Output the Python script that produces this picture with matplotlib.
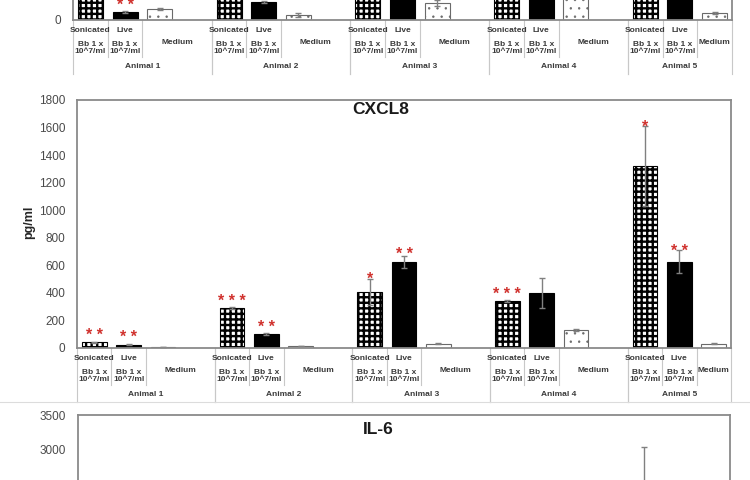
import numpy as np
import matplotlib
matplotlib.use('Agg')
import matplotlib.pyplot as plt
from matplotlib.lines import Line2D

plt.rcParams['font.family'] = ['Liberation Sans', 'DejaVu Sans']

# === DATA ===
animals = ['Animal 1', 'Animal 2', 'Animal 3', 'Animal 4', 'Animal 5']
treat_labels = ['Sonicated', 'Live']
dose_label = 'Bb 1 x\n10^7/ml'
medium_label = 'Medium'

# top panel (only its lowest strip is inside the picture)
top_son = [620, 540, 720, 610, 880]
top_son_err = [30, 40, 60, 50, 80]
top_live = [40, 90, 660, 560, 720]
top_live_err = [3, 6, 40, 60, 50]
top_med = [55, 25, 85, 190, 35]
top_med_err = [3, 10, 16, 10, 3]
top_live_stars = ['**', '', '', '', '']

# CXCL8 (pg/ml)
cx_son = [40, 290, 409, 341, 1320]
cx_son_err = [3, 5, 95, 5, 290]
cx_live = [25, 101, 626, 397, 626]
cx_live_err = [2, 5, 45, 110, 85]
cx_med = [8, 15, 30, 130, 30]
cx_med_err = [1, 2, 4, 6, 3]
cx_son_stars = ['**', '***', '*', '***', '*']
cx_live_stars = ['**', '**', '**', '', '**']

# IL-6 (pg/ml), only the top of the panel is visible
il6_son = [650, 900, 1150, 820, 2150]
il6_son_err = [60, 90, 250, 150, 890]
il6_live = [300, 420, 1350, 950, 1200]
il6_live_err = [40, 50, 200, 300, 250]
il6_med = [30, 40, 60, 160, 45]
il6_med_err = [5, 5, 10, 15, 5]

STAR_RED = '#d0312d'
GRID_GREY = '#c8c8c8'
TXT = '#3a3a3a'


def stars(ax, xs, tops, errs, labels, px_per_unit):
    for x, t, e, lab in zip(xs, tops, errs, labels):
        if not lab:
            continue
        # star sits 10 px over the bar, or just over the error bar if higher
        y_px = max(t * px_per_unit + 10, (t + e) * px_per_unit + 2)
        ax.annotate(' '.join(lab), xy=(x, 0), xytext=(0, y_px - 3),
                    textcoords='offset pixels', ha='center', va='center',
                    fontsize=11.5, fontweight='bold', color=STAR_RED,
                    annotation_clip=False)


def panel(ax, son, son_err, live, live_err, med, med_err, ymax, yticks,
          son_st=None, live_st=None, labels=True):
    fig = ax.figure
    h_px = ax.get_position().height * fig.get_figheight() * fig.dpi
    ppu = h_px / ymax
    x = np.arange(len(animals)) * 4
    w = 0.72
    with plt.rc_context({'hatch.linewidth': 1.7}):
        ax.bar(x, son, w, color='white', edgecolor='black', hatch='+++', linewidth=0.8)
    ax.bar(x + 1, live, w, color='black', edgecolor='black', linewidth=0.8)
    with plt.rc_context({'hatch.linewidth': 0.5}):
        ax.bar(x + 2, med, w, color='white', edgecolor='#6a6a6a', hatch='..', linewidth=0.8)
    for xs, v, e in [(x, son, son_err), (x + 1, live, live_err), (x + 2, med, med_err)]:
        ax.errorbar(xs, v, yerr=e, fmt='none', ecolor='#808080', elinewidth=1,
                    capsize=2.2, capthick=1)
    if son_st:
        stars(ax, x, son, son_err, son_st, ppu)
    if live_st:
        stars(ax, x + 1, live, live_err, live_st, ppu)

    ax.set_xlim(-0.5, 18.5)
    ax.set_ylim(0, ymax)
    ax.set_yticks(yticks)
    ax.set_xticks([])
    ax.tick_params(axis='y', length=0, pad=8.5, labelsize=8.5, labelcolor='#4a4a4a')
    for s in ax.spines.values():
        s.set_color('#8a8a8a')
        s.set_linewidth(1.3)

    if not labels:
        return
    tr = ax.get_xaxis_transform()
    for g, name in enumerate(animals):
        b = 4 * g
        end = b + 3.5 if g < len(animals) - 1 else 18.5
        for xb in (b - 0.5, end):
            ax.plot([xb, xb], [0, -54 / h_px], transform=tr, clip_on=False,
                    color=GRID_GREY, lw=0.8)
        for xb in (b + 0.5, b + 1.5):
            ax.plot([xb, xb], [0, -37 / h_px], transform=tr, clip_on=False,
                    color=GRID_GREY, lw=0.8)
        kw = dict(xycoords=('data', 'axes fraction'), textcoords='offset pixels',
                  ha='center', va='center', fontsize=6, fontweight='bold',
                  color=TXT, annotation_clip=False)
        for i, t in enumerate(treat_labels):
            ax.annotate(t, xy=(b + i, 0), xytext=(0, -10), **kw)
            ax.annotate(dose_label, xy=(b + i, 0), xytext=(0, -28),
                        linespacing=1.05, **kw)
        med_x = b + 2.5 if g < len(animals) - 1 else b + 2
        ax.annotate(medium_label, xy=(med_x, 0), xytext=(0, -23), **kw)
        grp_x = b + 1.5 if g < len(animals) - 1 else b + 1
        ax.annotate(name, xy=(grp_x, 0), xytext=(0, -47), **kw)


W, H = 750, 480
fig = plt.figure(figsize=(7.5, 4.8), dpi=100)

ax_top = fig.add_axes([73 / W, 1 - 20 / H, 659 / W, 240 / H])
panel(ax_top, top_son, top_son_err, top_live, top_live_err, top_med, top_med_err,
      1200, [0], None, top_live_stars)

ax_mid = fig.add_axes([77 / W, 1 - 348 / H, 654 / W, 248 / H])
panel(ax_mid, cx_son, cx_son_err, cx_live, cx_live_err, cx_med, cx_med_err,
      1800, np.arange(0, 1801, 200), cx_son_stars, cx_live_stars)

ax_bot = fig.add_axes([78 / W, 1 - 660 / H, 652 / W, 245 / H])
panel(ax_bot, il6_son, il6_son_err, il6_live, il6_live_err, il6_med, il6_med_err,
      3500, [2500, 3000, 3500], labels=False)

fig.text(381 / W, 1 - 110 / H, 'CXCL8', ha='center', va='center',
         fontsize=12.5, fontweight='bold', color='#1a1a1a')
fig.text(378 / W, 1 - 429 / H, 'IL-6', ha='center', va='center',
         fontsize=12.5, fontweight='bold', color='#1a1a1a')
fig.text(29 / W, 1 - 222 / H, 'pg/ml', rotation=90, ha='center', va='center',
         fontsize=9, fontweight='bold', color='#262626')

# border between the CXCL8 and IL-6 charts
fig.add_artist(Line2D([0, 1], [1 - 402 / H] * 2, transform=fig.transFigure,
                      color='#dcdcdc', lw=0.8))

fig.savefig('out.png', dpi=100)
